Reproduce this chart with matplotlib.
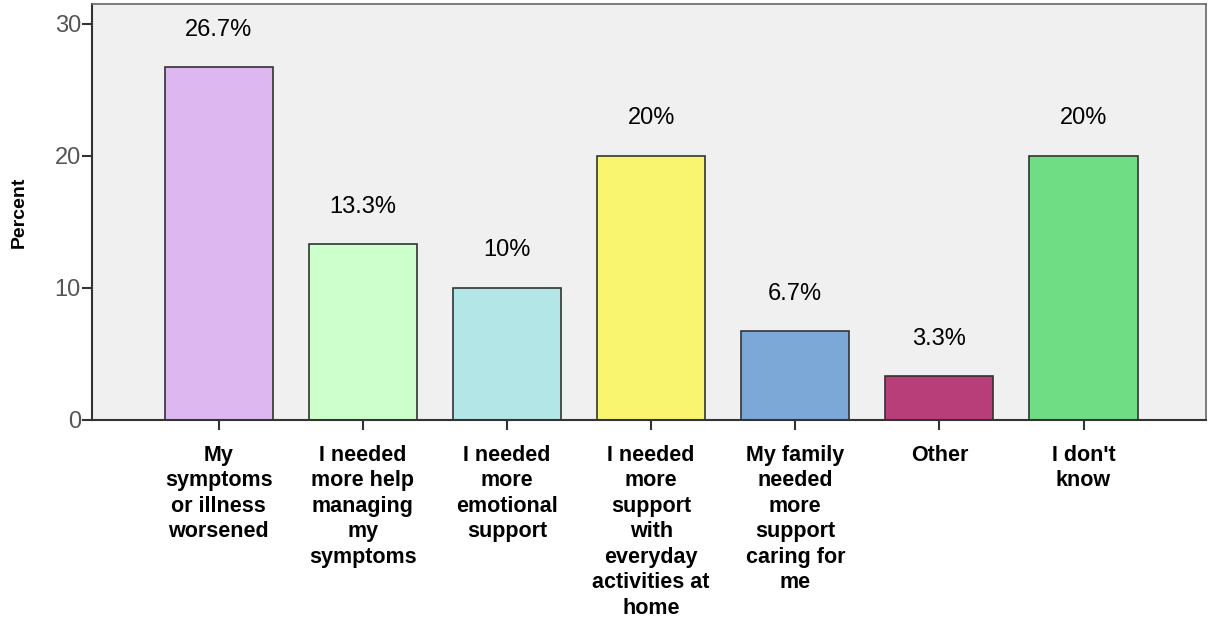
import matplotlib.pyplot as plt

# --- Data ---
categories = [
    "My\nsymptoms\nor illness\nworsened",
    "I needed\nmore help\nmanaging\nmy\nsymptoms",
    "I needed\nmore\nemotional\nsupport",
    "I needed\nmore\nsupport\nwith\neveryday\nactivities at\nhome",
    "My family\nneeded\nmore\nsupport\ncaring for\nme",
    "Other",
    "I don't\nknow",
]
percents = [26.7, 13.3, 10.0, 20.0, 6.7, 3.3, 20.0]
value_labels = ["26.7%", "13.3%", "10%", "20%", "6.7%", "3.3%", "20%"]
bar_colors = ["#DDB8F0", "#CCFFCC", "#B3E6E6", "#F9F56E", "#7BA8D6", "#B83E7A", "#6EDD84"]

fig = plt.figure(figsize=(12.1, 6.22), dpi=100)
ax = fig.add_axes([0.076, 0.3248, 0.9207, 0.6688])
ax.set_facecolor("#F0F0F0")

x = list(range(len(categories)))
ax.bar(x, percents, width=0.75, color=bar_colors, edgecolor="#333333", linewidth=1.2, zorder=2)

# percentage labels above each bar
for xi, val, lab in zip(x, percents, value_labels):
    ax.annotate(lab, (xi, val), xytext=(0, 27), textcoords="offset points",
                ha="center", va="center", fontsize=17, family="Liberation Sans")

ax.set_xlim(-0.88, 6.85)
ax.set_ylim(0, 31.5)
ax.set_yticks([0, 10, 20, 30])
ax.set_yticklabels(["0", "10", "20", "30"], family="Liberation Sans", fontsize=17, color="#555555")
ax.set_xticks(x)
ax.set_xticklabels(categories, family="Liberation Sans", fontweight="bold", fontsize=15.5,
                   linespacing=1.28, va="top")
ax.tick_params(axis="both", length=7, width=1.5, color="#333333", direction="out")
ax.tick_params(axis="x", pad=11)
ax.tick_params(axis="y", pad=1)

for side in ["left", "bottom"]:
    ax.spines[side].set_color("#333333")
    ax.spines[side].set_linewidth(1.5)
for side in ["top", "right"]:
    ax.spines[side].set_color("#666666")
    ax.spines[side].set_linewidth(1.2)

ax.set_ylabel("Percent", family="Liberation Sans", fontweight="bold", fontsize=14)
ax.yaxis.set_label_coords(-0.058, 0.5)

fig.savefig("out.png", dpi=100)
